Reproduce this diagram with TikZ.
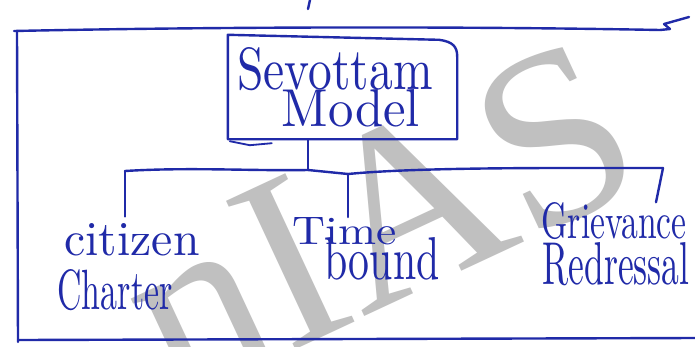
\documentclass[tikz,border=0pt]{standalone}
\usepackage{fontspec}
\usepackage{graphicx}
\usetikzlibrary{calc}
\newfontfamily\wmfont{Liberation Serif}
\definecolor{ink}{RGB}{32,42,168}
\definecolor{wmgray}{RGB}{192,192,192}
% word scaled to a given width and height (pt)
\newcommand\handword[3]{\resizebox{#1pt}{#2pt}{#3}}
\begin{document}
\begin{tikzpicture}[x=1pt,y=-1pt,
  inkline/.style={draw=ink,line width=2.4pt,line cap=round,line join=round},
  label/.style={text=ink,inner sep=0pt},
  box/.style={inner sep=0pt,minimum width=229pt,minimum height=104pt}]
\useasboundingbox (0,0) rectangle (695,346);
\fill[white] (0,0) rectangle (695,346);
\clip (0,0) rectangle (695,346);

% watermark
\node[anchor=base west,rotate=25,text=wmgray,inner sep=0pt,
      font=\wmfont\fontsize{250pt}{250pt}\selectfont] (wmark) at (174,406) {nIAS};

% frame
\draw[inkline] (310,0) -- (308,9);
\draw[inkline] (14,31) .. controls (200,27) and (450,26) .. (660,30)
  -- (670,29) -- (664,24) -- (689,17);
\draw[inkline] (17,31) -- (18,342);
\draw[inkline] (18,340) -- (695,338);

% central box
\node[box] (model) at (342.5,87) {};
\node[label] (sev) at (335,69) {\handword{195}{42}{Sevottam}};
\node[label] (mod) at (351,108) {\handword{138}{37}{Model}};
\draw[inkline] (model.south west) -- (model.north west)
  -- ($(model.north east)+(-18,5)$)
  .. controls ($(model.north east)+(-4,7)$) and ($(model.north east)+(0,12)$) ..
  ($(model.north east)+(0,22)$) -- (model.south east) -- cycle;
\draw[inkline,line width=1.8pt] ($(model.south west)+(2,2)$) -- ($(model.south west)+(22,6)$) -- ($(model.south west)+(44,4)$);

% branch labels
\node[label] (cz) at (132,240) {\handword{135}{32}{citizen}};
\node[label] (ch) at (115,290) {\handword{115}{40}{Charter}};
\node[label] (tm) at (345,231) {\handword{104}{27}{Time}};
\node[label] (bd) at (382,259) {\handword{115}{42}{bound}};
\node[label] (gr) at (614,221) {\handword{145}{36}{Grievance}};
\node[label] (rd) at (616,264) {\handword{147}{42}{Redressal}};

% connectors
\coordinate (hub) at (308,170);
\coordinate (bl) at (125,171);
\coordinate (bm) at (348,174);
\coordinate (br) at (663,168);
\draw[inkline] (model.south -| hub) -- (hub);
\draw[inkline] (bl) .. controls (190,167) and (250,171) .. (hub) -- (bm)
  .. controls (420,167) and (560,168) .. (br);
\draw[inkline] (bl) -- ($(bl |- cz.north)+(0,-7)$);
\draw[inkline] (bm) -- (bm |- tm.north);
\draw[inkline] (br) -- ($(gr.north)+(42,0)$);
\end{tikzpicture}
\end{document}
